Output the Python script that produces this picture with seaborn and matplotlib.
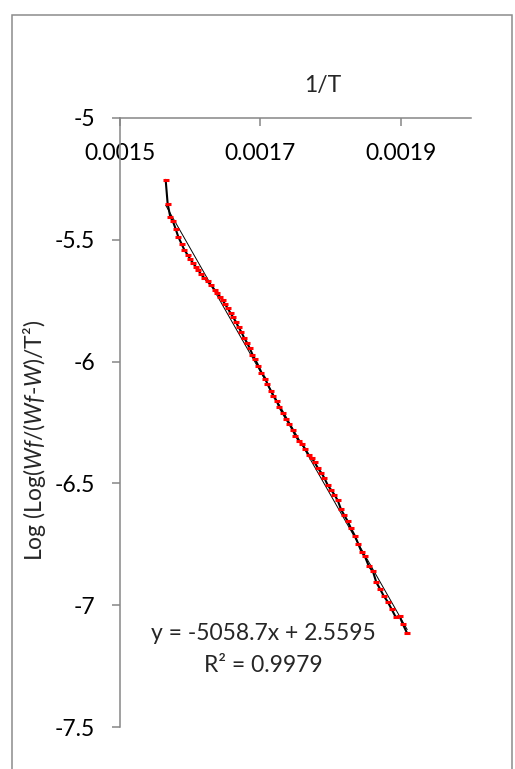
import numpy as np
import pandas as pd
import seaborn as sns
import matplotlib.pyplot as plt
from matplotlib.patches import Rectangle

# 1/T values and Log(Log(Wf/(Wf-W))/T^2)
inv_T = [0.0015651, 0.0015679, 0.0015716, 0.0015754, 0.0015793, 0.0015830, 0.0015878, 0.0015915,
         0.0015964, 0.0016001, 0.0016039, 0.0016078, 0.0016115, 0.0016153, 0.0016200, 0.0016248,
         0.0016300, 0.0016348, 0.0016384, 0.0016424, 0.0016462, 0.0016499, 0.0016537, 0.0016576,
         0.0016613, 0.0016651, 0.0016690, 0.0016727, 0.0016769, 0.0016812, 0.0016851, 0.0016889,
         0.0016926, 0.0016974, 0.0017017, 0.0017074, 0.0017101, 0.0017149, 0.0017188, 0.0017235,
         0.0017273, 0.0017320, 0.0017367, 0.0017416, 0.0017463, 0.0017501, 0.0017548, 0.0017595,
         0.0017643, 0.0017690, 0.0017737, 0.0017776, 0.0017823, 0.0017871, 0.0017914, 0.0017961,
         0.0018008, 0.0018056, 0.0018103, 0.0018150, 0.0018198, 0.0018246, 0.0018293, 0.0018350,
         0.0018398, 0.0018445, 0.0018492, 0.0018549, 0.0018606, 0.0018654, 0.0018711, 0.0018758,
         0.0018815, 0.0018872, 0.0018929, 0.0018986, 0.0019033, 0.0019095]
log_val = [-5.254, -5.351, -5.405, -5.424, -5.455, -5.487, -5.517, -5.540,
           -5.562, -5.579, -5.595, -5.610, -5.624, -5.641, -5.656, -5.671,
           -5.687, -5.705, -5.717, -5.733, -5.748, -5.765, -5.782, -5.801,
           -5.818, -5.836, -5.859, -5.877, -5.902, -5.923, -5.946, -5.971,
           -5.991, -6.018, -6.045, -6.070, -6.091, -6.119, -6.142, -6.163,
           -6.188, -6.211, -6.235, -6.257, -6.281, -6.304, -6.324, -6.338,
           -6.360, -6.383, -6.397, -6.414, -6.438, -6.457, -6.478, -6.507,
           -6.526, -6.546, -6.569, -6.606, -6.631, -6.655, -6.685, -6.716,
           -6.749, -6.782, -6.800, -6.841, -6.861, -6.906, -6.935, -6.961,
           -6.985, -7.016, -7.048, -7.045, -7.078, -7.116]

slope = -5058.7
intercept = 2.5595
r2 = 0.9979

x_ticks = [0.0015, 0.0017, 0.0019]
x_tick_labels = ["0.0015", "0.0017", "0.0019"]
y_ticks = [-7.5, -7, -6.5, -6, -5.5, -5]
y_tick_labels = ["-7.5", "-7", "-6.5", "-6", "-5.5", "-5"]

df = pd.DataFrame({"inv_T": inv_T, "val": log_val})
trend = pd.DataFrame({"inv_T": [min(inv_T), max(inv_T)]})
trend["val"] = slope * trend["inv_T"] + intercept

sns.set_style("white")
plt.rcParams["font.family"] = ["Lato", "DejaVu Sans"]
plt.rcParams["mathtext.fontset"] = "custom"
plt.rcParams["mathtext.it"] = "Lato:italic"
plt.rcParams["mathtext.rm"] = "Lato"

fs = 16.5
fig = plt.figure(figsize=(5.15, 7.69), dpi=100)
ax = fig.add_axes([120 / 515, 1 - 727 / 769, 350.7 / 515, 609 / 769])

sns.lineplot(data=df, x="inv_T", y="val", color="black", linewidth=1.5, ax=ax, sort=False)
sns.lineplot(data=trend, x="inv_T", y="val", color="black", linewidth=0.7, ax=ax)
ax.plot(df["inv_T"], df["val"], linestyle="none", marker="_", color="red",
        markersize=4.5, markeredgewidth=2.2)

ax.set_xlim(0.0015, 0.0020)
ax.set_ylim(-7.5, -5)
ax.set_xticks(x_ticks)
ax.set_xticklabels(x_tick_labels)
ax.set_yticks(y_ticks)
ax.set_yticklabels(y_tick_labels)

grey = "#868686"
for side in ["bottom", "right"]:
    ax.spines[side].set_visible(False)
for side in ["top", "left"]:
    ax.spines[side].set_color(grey)
    ax.spines[side].set_linewidth(1.1)

ax.tick_params(axis="x", bottom=False, labelbottom=False, top=True, labeltop=True,
               direction="in", length=5.5, width=1.1, color=grey, pad=-33,
               labelsize=fs, labelcolor="black")
ax.tick_params(axis="y", left=True, direction="out", length=5.8, width=1.1, color=grey,
               pad=12, labelsize=fs, labelcolor="black")

ax.set_xlabel("1/T", fontsize=fs)
ax.xaxis.set_label_position("top")
ax.xaxis.set_label_coords(0.579, 1.054)
ax.xaxis.label.set_va("center")
ax.set_ylabel("")
fig.text(35 / 515, 1 - 440 / 769, r"Log (Log($Wf$/($Wf$-$W$)/T²)", rotation=90,
         ha="center", va="center", fontsize=fs)

ax.text(263, 769 - 633, f"y = {slope}x + {intercept}", transform=None,
        ha="center", va="center", fontsize=fs)
ax.text(263, 769 - 666, f"R² = {r2}", transform=None,
        ha="center", va="center", fontsize=fs)

fig.patches.append(Rectangle((12 / 515, -0.05), 500 / 515, 1 - 15 / 769 + 0.05,
                             transform=fig.transFigure, fill=False,
                             edgecolor="#8c8c8c", linewidth=1.1))

fig.savefig("out.png", dpi=100)
